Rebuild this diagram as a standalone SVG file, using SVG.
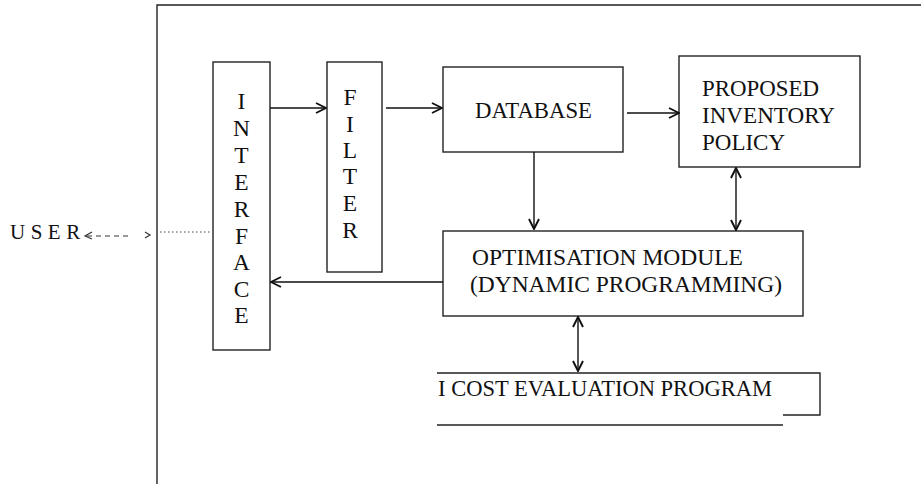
<svg xmlns="http://www.w3.org/2000/svg" width="921" height="484" viewBox="0 0 921 484">
<defs>
<marker id="ah" viewBox="0 0 12 12" refX="11" refY="6" markerWidth="12" markerHeight="12" markerUnits="userSpaceOnUse" orient="auto-start-reverse">
<path d="M1,1 L11,6 L1,11" fill="none" stroke="#111" stroke-width="1.9"/>
</marker>
</defs>
<style>
.box{fill:none;stroke:#222;stroke-width:1.4}
.ln{fill:none;stroke:#222;stroke-width:1.4}
.t{font-family:"Liberation Serif","Times New Roman",serif;fill:#111}
.c{stroke:#111;stroke-width:1.4;fill:none}
</style>
<g id="frame">
<path class="ln" d="M157,484 V5 H921"/>
</g>
<g id="user">
<text class="t" x="10" y="239" font-size="21" letter-spacing="5.5">USER</text>
</g>
<g id="interface">
<rect class="box" x="213" y="62" width="57" height="288"/>
<g class="t" font-size="23.5" text-anchor="middle">
<text x="241.5" y="109">I</text>
<text x="241.5" y="136">N</text>
<text x="241.5" y="163">T</text>
<text x="241.5" y="190">E</text>
<text x="241.5" y="217">R</text>
<text x="241.5" y="244">F</text>
<text x="241.5" y="270">A</text>
<text x="241.5" y="297">C</text>
<text x="241.5" y="323">E</text>
</g>
</g>
<g id="filter">
<rect class="box" x="327" y="62" width="55" height="210"/>
<g class="t" font-size="23.5" text-anchor="middle">
<text x="350" y="105">F</text>
<text x="350" y="132">I</text>
<text x="350" y="158">L</text>
<text x="350" y="184">T</text>
<text x="350" y="211">E</text>
<text x="350" y="238">R</text>
</g>
</g>
<g id="database">
<rect class="box" x="443" y="67" width="180" height="85"/>
<text class="t" x="475" y="118" font-size="23" textLength="117" lengthAdjust="spacingAndGlyphs">DATABASE</text>
</g>
<g id="policy">
<rect class="box" x="679" y="56" width="181" height="111"/>
<g class="t" font-size="23">
<text x="702" y="96" textLength="117" lengthAdjust="spacingAndGlyphs">PROPOSED</text>
<text x="702" y="123" textLength="133" lengthAdjust="spacingAndGlyphs">INVENTORY</text>
<text x="702" y="150">POLICY</text>
</g>
</g>
<g id="optimisation">
<rect class="box" x="443" y="231" width="360" height="85"/>
<g class="t" font-size="23.5">
<text x="472" y="265">OPTIMISATION MODULE</text>
<text x="470" y="292" textLength="312" lengthAdjust="spacingAndGlyphs">(DYNAMIC PROGRAMMING)</text>
</g>
</g>
<g id="cost">
<path class="ln" d="M437,373 H820 V415 H783 M437,425 H783"/>
<text class="t" x="438" y="396" font-size="23" textLength="334" lengthAdjust="spacingAndGlyphs">I  COST EVALUATION PROGRAM</text>
</g>
<g id="connectors">
<line class="c" x1="270" y1="108" x2="326" y2="108" marker-end="url(#ah)"/>
<line class="c" x1="386" y1="108" x2="442" y2="108" marker-end="url(#ah)"/>
<line class="c" x1="627" y1="113" x2="679" y2="113" marker-end="url(#ah)"/>
<line class="c" x1="534" y1="152" x2="534" y2="229" marker-end="url(#ah)"/>
<line class="c" x1="736" y1="168" x2="736" y2="230" marker-start="url(#ah)" marker-end="url(#ah)"/>
<line class="c" x1="443" y1="282" x2="271" y2="282" marker-end="url(#ah)"/>
<line class="c" x1="578" y1="317" x2="578" y2="371" marker-start="url(#ah)" marker-end="url(#ah)"/>
<line x1="128" y1="236" x2="86" y2="236" stroke="#333" stroke-width="1.2" stroke-dasharray="5,4"/>
<path d="M92,232 L85,236 L92,239" fill="none" stroke="#333" stroke-width="1.2"/>
<path d="M145,232 L150,235 L145,238" fill="none" stroke="#333" stroke-width="1.2"/>
<line x1="160" y1="232" x2="212" y2="232" stroke="#444" stroke-width="1" stroke-dasharray="1.5,2.5"/>
</g>
</svg>
